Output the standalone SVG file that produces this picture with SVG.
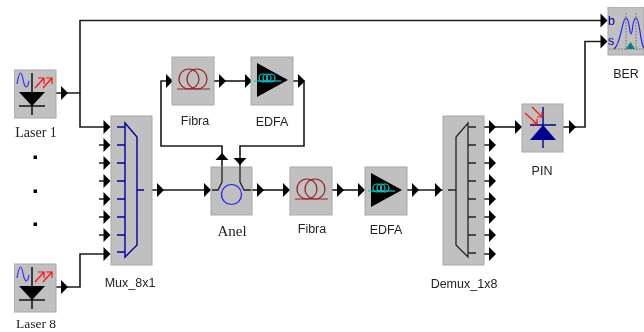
<svg xmlns="http://www.w3.org/2000/svg" width="644" height="332" viewBox="0 0 644 332">
<style>
.box{fill:#c0c0c0;stroke:#a8a8a8;stroke-width:1}
.w{fill:none;stroke:#1a1a1a;stroke-width:1.6}
.t{font-family:"Liberation Sans",Arial,sans-serif;font-size:12.5px;fill:#222;text-anchor:middle}
.s{font-family:"Liberation Serif","Times New Roman",serif;font-size:14px;fill:#222;text-anchor:middle}
.fib{fill:none;stroke:#9a2020;stroke-width:1.2}
.coil{fill:none;stroke:#10c8c8;stroke-width:1.2}
.b{fill:none;stroke:#0000a0;stroke-width:1.4}
.k{fill:none;stroke:#222;stroke-width:1.3}
.lab{font-family:"Liberation Sans",Arial,sans-serif;font-size:12.5px;fill:#0000a0}
</style>
<defs>
<filter id="soft" x="0" y="0" width="100%" height="100%"><feGaussianBlur stdDeviation="0.3"/></filter>
<polygon id="ar" points="0,-7 7,0 0,7" fill="#000"/>
<polygon id="au" points="-6.500,0 0,-7 6.500,0" fill="#000"/>
<polygon id="ad" points="-6.500,0 0,7 6.500,0" fill="#000"/>
<g id="laser">
<rect class="box" x="0" y="0" width="42" height="48"/>
<path d="M3,14 C4,8 5,3 6.500,3 C9,3 9,16 12,17 C14,17 14.500,13 15,11" fill="none" stroke="#3030ff" stroke-width="1.2"/>
<path d="M21,18 L30,8 M24,8 H30 V14 M29,18 L38,8 M32,8 H38 V14" fill="none" stroke="#ff1010" stroke-width="1.2"/>
<path d="M18,3 V45 M5,36 H31" stroke="#111" stroke-width="1.5" fill="none"/>
<polygon points="5,22 31,22 18,36" fill="#000"/>
</g>
<g id="fibra">
<rect class="box" x="0" y="0" width="42" height="48"/>
<path class="fib" d="M5,32 H38"/>
<circle class="fib" cx="17" cy="22" r="10"/>
<circle class="fib" cx="25" cy="22" r="10"/>
</g>
<g id="edfa">
<rect class="box" x="0" y="0" width="42" height="48"/>
<polygon points="6,6 37,23 6,40" fill="#000"/>
<path class="coil" d="M3,24 H30"/>
<circle class="coil" cx="12" cy="21" r="4"/>
<circle class="coil" cx="16" cy="21" r="4"/>
<circle class="coil" cx="20" cy="21" r="4"/>
</g>
</defs>
<g filter="url(#soft)">
<g id="connectors">
<path class="w" d="M56,93 H80 V20.500 H602"/>
<path class="w" d="M80,93 V127 H104"/>
<path class="w" d="M56,287 H80 V254 H104"/>
<path class="w" d="M99,145 H104 M99,163 H104 M99,181 H104 M99,199 H104 M99,217 H104 M99,235 H104"/>
<path class="w" d="M152,190 H205"/>
<path class="w" d="M252,190 H284"/>
<path class="w" d="M332,190 H359"/>
<path class="w" d="M407,190 H443"/>
<path class="w" d="M484,127 H516"/>
<path class="w" d="M484,145 H490 M484,163 H490 M484,181 H490 M484,199 H490 M484,217 H490 M484,235 H490 M484,254 H490"/>
<path class="w" d="M563,127 H585 V41.500 H602"/>
<path class="w" d="M222,167 V146 H161 V81 H167"/>
<path class="w" d="M240,167 V146 H304 V81 H292"/>
<path class="w" d="M214,81 H246"/>
<use href="#ar" x="61" y="93"/><use href="#ar" x="600.500" y="20.500"/><use href="#ar" x="600.500" y="41.500"/>
<use href="#ar" x="61" y="287"/>
<use href="#ar" x="103.500" y="127"/><use href="#ar" x="103.500" y="145"/><use href="#ar" x="103.500" y="163"/><use href="#ar" x="103.500" y="181"/><use href="#ar" x="103.500" y="199"/><use href="#ar" x="103.500" y="217"/><use href="#ar" x="103.500" y="235"/><use href="#ar" x="103.500" y="254"/>
<use href="#ar" x="157" y="190"/><use href="#ar" x="204" y="190"/><use href="#ar" x="257" y="190"/><use href="#ar" x="283" y="190"/><use href="#ar" x="337" y="190"/><use href="#ar" x="358" y="190"/><use href="#ar" x="412" y="190"/><use href="#ar" x="435" y="190"/>
<use href="#ar" x="489" y="127"/><use href="#ar" x="489" y="145"/><use href="#ar" x="489" y="163"/><use href="#ar" x="489" y="181"/><use href="#ar" x="489" y="199"/><use href="#ar" x="489" y="217"/><use href="#ar" x="489" y="235"/><use href="#ar" x="489" y="254"/>
<use href="#ar" x="515" y="127"/><use href="#ar" x="569" y="127"/>
<use href="#ar" x="166" y="81"/><use href="#ar" x="219" y="81"/><use href="#ar" x="245" y="81"/><use href="#ar" x="298" y="81"/>
<use href="#au" x="222" y="160"/><use href="#ad" x="240" y="158"/>
</g>
<g id="laser1"><use href="#laser" x="14" y="70"/><text class="s" x="36" y="137">Laser 1</text></g>
<g id="dots"><rect x="33.500" y="155.500" width="3.500" height="3.500"/><rect x="33.500" y="189.500" width="3.500" height="3.500"/><rect x="33.500" y="222.500" width="3.500" height="3.500"/></g>
<g id="laser8"><use href="#laser" x="14" y="264"/><text class="s" x="36" y="328" style="font-size:13.500px">Laser 8</text></g>
<g id="mux">
<rect class="box" x="111" y="116" width="41" height="149"/>
<path class="b" d="M117,127 H125 M117,145 H125 M117,163 H125 M117,181 H125 M117,199 H125 M117,217 H125 M117,235 H125 M117,252 H125 M125,123 V257 L137,245 V137 Z M137,190 H144"/>
<text class="t" x="130" y="287">Mux_8x1</text>
</g>
<g id="anel">
<rect class="box" x="211" y="167" width="41" height="48"/>
<path class="k" d="M212,190 H218 L222,182 V167 M251,190 H244 L240,182 V167"/>
<circle cx="231.500" cy="194.500" r="10" fill="none" stroke="#2020ff" stroke-width="1.200"/>
<text class="s" x="232" y="236" style="font-size:15px">Anel</text>
</g>
<g id="fibra1"><use href="#fibra" x="172" y="57"/><text class="t" x="195" y="125">Fibra</text></g>
<g id="edfa1"><use href="#edfa" x="251" y="57"/><text class="t" x="272" y="126">EDFA</text></g>
<g id="fibra2"><use href="#fibra" x="290" y="167"/><text class="t" x="312" y="233">Fibra</text></g>
<g id="edfa2"><use href="#edfa" x="365" y="167"/><text class="t" x="386" y="234">EDFA</text></g>
<g id="demux">
<rect class="box" x="443" y="116" width="41" height="149"/>
<path class="k" d="M468,127 H476 M468,145 H476 M468,163 H476 M468,181 H476 M468,199 H476 M468,217 H476 M468,235 H476 M468,253 H476 M468,123 V257 L456,245 V137 Z M448,190 H456"/>
<text class="t" x="464" y="288">Demux_1x8</text>
</g>
<g id="pin">
<rect class="box" x="522" y="104" width="41" height="48"/>
<path d="M543,107 V148 M530,125 H556" stroke="#000090" stroke-width="1.4" fill="none"/>
<polygon points="530,140 556,140 543,125" fill="#000090"/>
<path d="M525,113 L537,124 M532,124 H537 V119 M532,107 L542,117 M537,117 H542 V112" fill="none" stroke="#ff1010" stroke-width="1.2"/>
<text class="t" x="542" y="175">PIN</text>
</g>
<g id="ber">
<rect class="box" x="608" y="7" width="36" height="48"/>
<path d="M614,49 C621,45 622,18 626,18 C630,18 629,34 631,34 C633,34 632,18 636,18 C640,18 640,44 644,48" fill="none" stroke="#2020ff" stroke-width="1.2"/>
<path d="M609,49 H644 M626,13 V50 M636,13 V50" fill="none" stroke="#555" stroke-width="0.8" stroke-dasharray="1.500 1.500"/>
<polygon points="630.500,42 635,49 626,49" fill="#008080"/>
<text class="lab" x="608" y="25">b</text>
<text class="lab" x="608" y="45">s</text>
<text class="t" x="626" y="78">BER</text>
</g>
</g>
</svg>
